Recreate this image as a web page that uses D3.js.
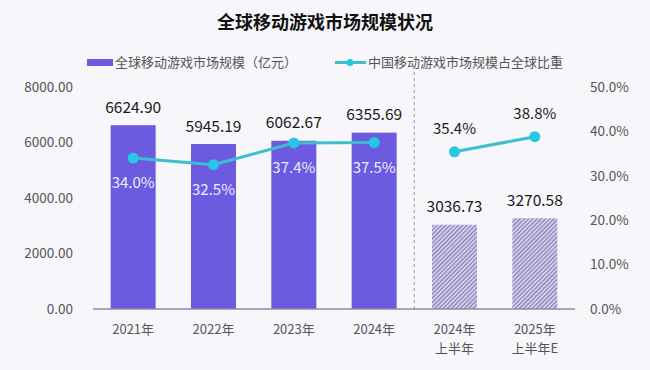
<!DOCTYPE html>
<html>
<head>
<meta charset="utf-8">
<script src="https://cdn.jsdelivr.net/npm/d3@7"></script>
<style>
  html, body { margin: 0; padding: 0; background: #f6f6fb; }
  svg { display: block; font-family: "Noto Sans CJK SC", "Noto Sans", sans-serif; }
</style>
</head>
<body>
<svg id="chart" width="650" height="370"></svg>
<script>
const categories = [["2021年"], ["2022年"], ["2023年"], ["2024年"], ["2024年", "上半年"], ["2025年", "上半年E"]];
const marketSize = [6624.90, 5945.19, 6062.67, 6355.69, 3036.73, 3270.58];
const chinaShare = [34.0, 32.5, 37.4, 37.5, 35.4, 38.8];
const isHalfYear = [false, false, false, false, true, true];
const leftTicks = [0, 2000, 4000, 6000, 8000];
const rightTicks = [0, 10, 20, 30, 40, 50];
const title = "全球移动游戏市场规模状况";
const legendBar = "全球移动游戏市场规模（亿元）";
const legendLine = "中国移动游戏市场规模占全球比重";

const svg = d3.select("#chart");
const W = 650, H = 370;
svg.append("rect").attr("width", W).attr("height", H).attr("fill", "#f6f6fb");

const plot = { left: 93, right: 575, top: 87, bottom: 309 };
const idx = d3.range(categories.length);

const x = d3.scaleBand().domain(idx).range([plot.left, plot.right]).paddingInner(0.44).paddingOuter(0.22);
const yL = d3.scaleLinear().domain([0, 8000]).range([plot.bottom, plot.top]);
const yR = d3.scaleLinear().domain([0, 50]).range([plot.bottom, plot.top]);

// hatch pattern
const defs = svg.append("defs");
const pat = defs.append("pattern").attr("id", "hatch").attr("patternUnits", "userSpaceOnUse")
  .attr("width", 3).attr("height", 3).attr("patternTransform", "rotate(45)");
pat.append("rect").attr("width", 3).attr("height", 3).attr("fill", "#cfcbee");
pat.append("line").attr("x1", 0).attr("y1", 0).attr("x2", 0).attr("y2", 3)
  .attr("stroke", "#66628f").attr("stroke-width", 1.5);

// title
svg.append("text").attr("x", 325).attr("y", 29).attr("text-anchor", "middle")
  .attr("font-size", 18).attr("font-weight", "bold").attr("fill", "#111").text(title);

// legend
const lg = svg.append("g");
lg.append("rect").attr("x", 87).attr("y", 59).attr("width", 26).attr("height", 7).attr("fill", "#6c5be0");
lg.append("text").attr("x", 115).attr("y", 67).attr("font-size", 13).attr("fill", "#555").text(legendBar);
lg.append("line").attr("x1", 335).attr("x2", 366).attr("y1", 62.5).attr("y2", 62.5)
  .attr("stroke", "#3cbfcc").attr("stroke-width", 3);
lg.append("circle").attr("cx", 350).attr("cy", 62.5).attr("r", 3.5).attr("fill", "#25c8e4");
lg.append("text").attr("x", 368).attr("y", 67).attr("font-size", 13).attr("fill", "#555").text(legendLine);

// left axis
const axL = svg.append("g").attr("transform", `translate(${plot.left - 20},0)`)
  .call(d3.axisLeft(yL).tickValues(leftTicks).tickSize(0).tickPadding(0).tickFormat(d3.format(".2f")));
axL.select(".domain").remove();
axL.selectAll("text").attr("font-size", 13.5).attr("fill", "#555")
  .attr("font-family", "'Noto Sans CJK SC', sans-serif");

// right axis
const axR = svg.append("g").attr("transform", `translate(${plot.right + 15},0)`)
  .call(d3.axisRight(yR).tickValues(rightTicks).tickSize(0).tickPadding(0).tickFormat(d => d.toFixed(1) + "%"));
axR.select(".domain").remove();
axR.selectAll("text").attr("font-size", 13.5).attr("fill", "#555")
  .attr("font-family", "'Noto Sans CJK SC', sans-serif");

// dashed separator
const sepX = (x(3) + x.bandwidth() + x(4)) / 2;
svg.append("line").attr("x1", sepX).attr("x2", sepX).attr("y1", 72).attr("y2", plot.bottom)
  .attr("stroke", "#a9a9b8").attr("stroke-width", 1.2).attr("stroke-dasharray", "3,3");

// bars
svg.append("g").selectAll("rect").data(idx).join("rect")
  .attr("x", i => x(i)).attr("width", x.bandwidth())
  .attr("y", i => yL(marketSize[i])).attr("height", i => plot.bottom - yL(marketSize[i]))
  .attr("fill", i => isHalfYear[i] ? "url(#hatch)" : "#6c5be0");

// x axis line
svg.append("line").attr("x1", plot.left).attr("x2", plot.right).attr("y1", plot.bottom).attr("y2", plot.bottom)
  .attr("stroke", "#8e8ba6").attr("stroke-width", 1.5);

// x labels (one text per line)
const xLabelData = [];
idx.forEach(i => categories[i].forEach((s, k) => xLabelData.push({ i, k, s })));
svg.append("g").selectAll("text").data(xLabelData).join("text")
  .attr("x", d => x(d.i) + x.bandwidth() / 2).attr("y", d => 334 + d.k * 19)
  .attr("text-anchor", "middle").attr("font-size", 13).attr("fill", "#555")
  .text(d => d.s);

// bar value labels
svg.append("g").selectAll("text").data(idx).join("text")
  .attr("x", i => x(i) + x.bandwidth() / 2).attr("y", i => yL(marketSize[i]) - 12.5)
  .attr("text-anchor", "middle").attr("font-size", 15.5).attr("fill", "#1a1a1a")
  .text(i => marketSize[i].toFixed(2));

// line
const cx = i => x(i) + x.bandwidth() / 2;
const segA = idx.filter(i => !isHalfYear[i]);
const segB = idx.filter(i => isHalfYear[i]);
const lineGen = d3.line().x(i => cx(i)).y(i => yR(chinaShare[i]));
[segA, segB].forEach(seg => {
  svg.append("path").datum(seg).attr("d", lineGen).attr("fill", "none")
    .attr("stroke", "#3cbfcc").attr("stroke-width", 3);
});
svg.append("g").selectAll("circle").data(idx).join("circle")
  .attr("cx", cx).attr("cy", i => yR(chinaShare[i])).attr("r", 5.5).attr("fill", "#25c8e4");

// share labels
svg.append("g").selectAll("text").data(idx).join("text")
  .attr("x", cx).attr("y", i => isHalfYear[i] ? yR(chinaShare[i]) - 18 : yR(chinaShare[i]) + 30)
  .attr("text-anchor", "middle").attr("font-size", 15)
  .attr("fill", i => isHalfYear[i] ? "#1a1a1a" : "#ecebff")
  .text(i => chinaShare[i].toFixed(1) + "%");
</script>
</body>
</html>
